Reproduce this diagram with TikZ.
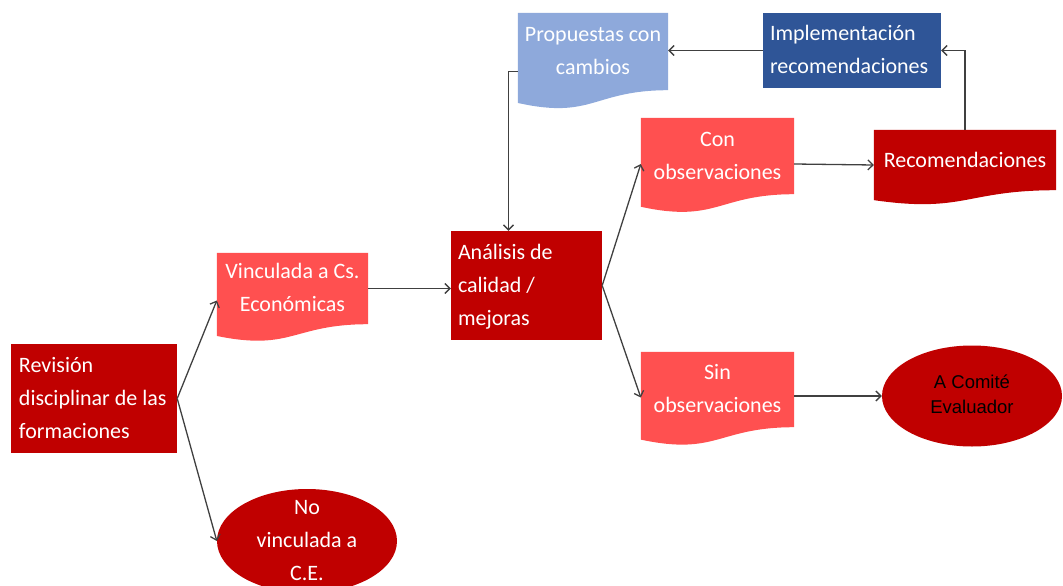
\documentclass[tikz,border=0pt]{standalone}
\usepackage{fontspec}
\setmainfont{Carlito}
\newfontfamily\arialfont{Liberation Sans}
\usetikzlibrary{shapes.geometric,arrows.meta,calc,backgrounds}
\definecolor{darkred}{HTML}{C00000}
\definecolor{lightred}{HTML}{FF5050}
\definecolor{lightblue}{HTML}{8EA9DB}
\definecolor{darkblue}{HTML}{2F5597}
\definecolor{linegray}{HTML}{404040}
\tikzset{
  box/.style={rectangle, inner sep=0pt, text=white,
    font=\fontsize{22}{33}\selectfont},
  oval/.style={ellipse, inner sep=0pt, fill=darkred},
  conn/.style={draw=linegray, line width=1.3pt, -{Straight Barb[length=5pt,width=10pt]}},
}
\newcommand\lines[2]{\begin{tabular}{@{}#1@{}}#2\end{tabular}}
\newcommand\docfill[2]{%
  \fill[#2] let \p1=(#1.north west), \p2=(#1.south east), \n1={\y1-\y2} in
    (\p1) -- (\x2,\y1) -- (\p2)
    .. controls ({(\x1+\x2)/2},\y2) and ({(\x1+\x2)/2},{\y2-0.381*\n1}) ..
    (\x1,{\y2-0.1646*\n1}) -- cycle;}
\begin{document}
\begin{tikzpicture}[x=1pt,y=-1pt]
\useasboundingbox (0,0) rectangle (1063,586);
\clip (0,0) rectangle (1063,586);
% nodes
\node[box, fill=darkred, minimum width=166pt, minimum height=109pt] (rev) at (94,398.5)
  {\lines{l}{\makebox[150pt][l]{Revisión}\\disciplinar de las\\formaciones}};
\node[box, minimum width=151pt, minimum height=71pt] (vinc) at (292.5,288.5)
  {\lines{c}{Vinculada a Cs.\\Económicas}};
\node[box, fill=darkred, minimum width=151pt, minimum height=109pt] (anal) at (526.5,285.5)
  {\lines{l}{\makebox[137pt][l]{Análisis de}\\calidad /\\mejoras}};
\node[box, minimum width=153pt, minimum height=76pt] (con) at (717.5,156)
  {\lines{c}{Con\\observaciones}};
\node[box, minimum width=153pt, minimum height=75pt] (sin) at (717.5,389.5)
  {\lines{c}{Sin\\observaciones}};
\node[box, minimum width=182pt, minimum height=60pt] (rec) at (965,160)
  {Recomendaciones};
\node[box, minimum width=150pt, minimum height=77pt] (prop) at (593,51.5)
  {\lines{c}{Propuestas con\\cambios}};
\node[box, fill=darkblue, minimum width=178pt, minimum height=75pt] (impl) at (852,50.5)
  {\lines{l}{\makebox[164pt][l]{Implementación}\\recomendaciones}};
\node[oval, minimum width=180pt, minimum height=101pt, text=black,
  font=\arialfont\fontsize{18.5}{25}\selectfont] (comite) at (972,396)
  {\lines{c}{A Comité\\Evaluador}};
\node[oval, minimum width=180pt, minimum height=104pt, text=white,
  font=\fontsize{22}{33}\selectfont] (novinc) at (307,541)
  {\raisebox{-5.5pt}[0pt][0pt]{\lines{c}{No\\vinculada a\\C.E.}}};
% document-shape fills
\begin{scope}[on background layer]
  \docfill{vinc}{lightred}
  \docfill{con}{lightred}
  \docfill{sin}{lightred}
  \docfill{rec}{darkred}
  \docfill{prop}{lightblue}
\end{scope}
% connectors
\draw[conn] (rev.east) -- ([yshift=-12pt]vinc.west);
\draw[conn] (rev.east) -- (novinc.west);
\draw[conn] (vinc.east) -- (vinc.east -| anal.west);
\draw[conn] (anal.east) -- ([yshift=-8pt]con.west);
\draw[conn] (anal.east) -- ([yshift=-8pt]sin.west);
\draw[conn] ([yshift=-8pt]con.east) -- ([yshift=-5pt]rec.west);
\draw[conn] (sin.east |- comite.west) -- (comite.west);
\draw[conn] (rec.north) |- (impl.east);
\draw[conn] (impl.west) -- (impl.west -| prop.east);
\draw[conn] ([yshift=-20pt]prop.west) -| ([xshift=-18pt]anal.north);
\end{tikzpicture}
\end{document}
